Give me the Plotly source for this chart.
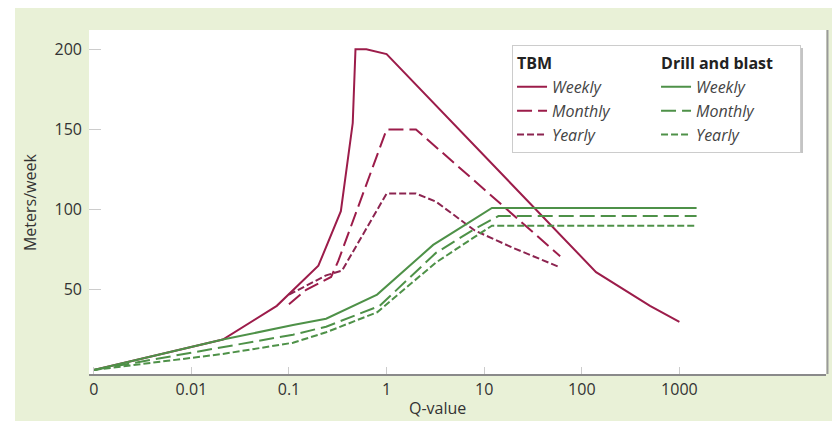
import plotly.graph_objects as go

# ---- data ----
q_tbm_weekly = [0.001, 0.021, 0.075, 0.2, 0.34, 0.45, 0.48, 0.62, 1.0, 140, 500, 1000]
v_tbm_weekly = [0, 19, 40, 65, 99, 154, 200, 200, 197, 61, 40, 30]

q_tbm_monthly = [0.1, 0.15, 0.27, 0.32, 1.0, 2.0, 60]
v_tbm_monthly = [41, 50, 58, 68, 150, 150, 71]

q_tbm_yearly = [0.1, 0.24, 0.35, 1.0, 2.0, 3.2, 8, 20, 60]
v_tbm_yearly = [47, 59, 62, 110, 110, 105, 87, 76, 64]

q_db_weekly = [0.001, 0.021, 0.11, 0.24, 0.8, 3.0, 7, 12, 1500]
v_db_weekly = [0, 19, 28, 32, 47, 78, 92, 101, 101]

q_db_monthly = [0.001, 0.021, 0.11, 0.24, 0.85, 3.2, 8, 14, 1500]
v_db_monthly = [0, 14, 22, 27, 40, 73, 88, 96, 96]

q_db_yearly = [0.001, 0.021, 0.11, 0.24, 0.8, 3.2, 8, 12, 1500]
v_db_yearly = [0, 10, 17, 23.5, 36, 67, 83, 90, 90]

x_tick_vals = [0.001, 0.01, 0.1, 1, 10, 100, 1000]
x_tick_text = ["0", "0.01", "0.1", "1", "10", "100", "1000"]
y_tick_vals = [50, 100, 150, 200]

FONT = "Open Sans"
TBM = "#9c1c4a"
TBM_Y = "#8c2450"
DB = "#4e9148"

series = [
    (q_tbm_weekly, v_tbm_weekly, "<i>Weekly</i>", "tbm", TBM, "solid", "<b>TBM</b>"),
    (q_tbm_monthly, v_tbm_monthly, "<i>Monthly</i>", "tbm", TBM, "15px,6px", None),
    (q_tbm_yearly, v_tbm_yearly, "<i>Yearly</i>", "tbm", TBM_Y, "7px,3px", None),
    (q_db_weekly, v_db_weekly, "<i>Weekly</i>", "db", DB, "solid", "<b>Drill and blast</b>"),
    (q_db_monthly, v_db_monthly, "<i>Monthly</i>", "db", DB, "15px,6px", None),
    (q_db_yearly, v_db_yearly, "<i>Yearly</i>", "db", DB, "7px,3px", None),
]

fig = go.Figure()
for q, v, name, grp, col, dash, gtitle in series:
    kw = {}
    if gtitle:
        kw["legendgrouptitle"] = dict(text=gtitle, font=dict(family=FONT, size=16, color="#222"))
    fig.add_trace(go.Scatter(
        x=q, y=v, mode="lines", name=name, legendgroup=grp,
        line=dict(color=col, width=2, dash=dash), **kw))

GREEN_BG = "#e9f1d7"

fig.update_layout(
    width=832, height=413,
    margin=dict(l=81, r=14, t=22, b=47),
    paper_bgcolor=GREEN_BG,
    plot_bgcolor="white",
    font=dict(family=FONT, size=16, color="#333"),
    showlegend=True,
    legend=dict(
        orientation="h", traceorder="grouped",
        x=0.574, y=0.956, xanchor="left", yanchor="top",
        bgcolor="white", bordercolor="#cccccc", borderwidth=1,
        font=dict(family=FONT, size=16, color="#444"),
        entrywidth=99, entrywidthmode="pixels",
    ),
    xaxis=dict(
        type="log", range=[-3.049, 4.502],
        tickvals=x_tick_vals, ticktext=x_tick_text,
        ticks="inside", ticklen=7, tickcolor="#cccccc",
        showgrid=False, zeroline=False,
        showline=True, linecolor="#8a8a8a", linewidth=2,
        tickfont=dict(family=FONT, size=16, color="#333"),
    ),
    yaxis=dict(
        range=[-2.5, 212],
        tickvals=y_tick_vals,
        ticks="inside", ticklen=12, tickcolor="#cccccc",
        showgrid=False, zeroline=False, showline=False,
        ticklabelstandoff=6,
        tickfont=dict(family=FONT, size=16, color="#333"),
    ),
    shapes=[
        # white strip left of the green panel
        dict(type="rect", xref="paper", yref="paper", x0=-0.2, x1=-0.1004, y0=-0.2, y1=1.2,
             fillcolor="white", line=dict(width=0), layer="below"),
        # plot-area right edge shadow
        dict(type="line", xref="paper", yref="paper", x0=1.002, x1=1.002, y0=0, y1=1,
             line=dict(color="#9a9a9a", width=2)),
        # legend drop shadow
        dict(type="rect", xref="paper", yref="paper", x0=0.574, x1=0.9688, y0=0.6424, y1=0.948,
             fillcolor="#c4c4c4", line=dict(width=0), layer="above"),
    ],
    annotations=[
        dict(text="Meters/week", xref="paper", yref="paper", x=-0.080, y=0.497,
             textangle=-90, showarrow=False, xanchor="center", yanchor="middle",
             font=dict(family=FONT, size=16, color="#333")),
        dict(text="Q-value", xref="paper", yref="paper", x=0.4735, y=-0.099,
             showarrow=False, xanchor="center", yanchor="middle",
             font=dict(family=FONT, size=16, color="#333")),
    ],
)

fig.write_html("out.html")
